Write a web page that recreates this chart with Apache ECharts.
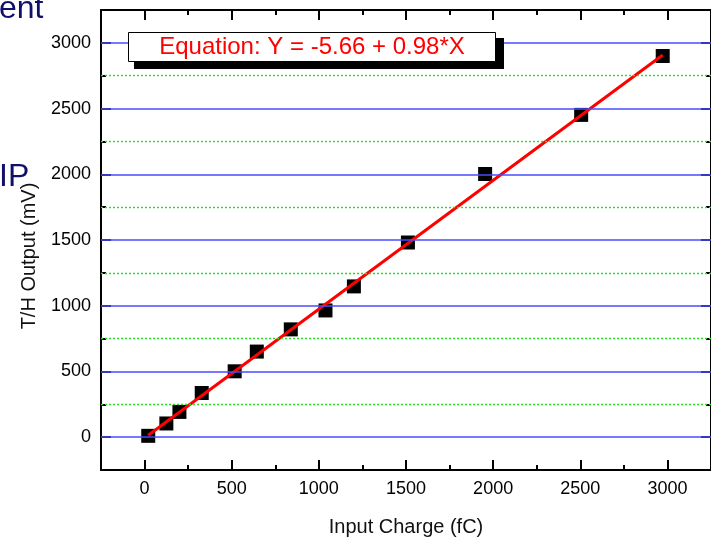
<!DOCTYPE html>
<html>
<head>
<meta charset="utf-8">
<script src="https://cdn.jsdelivr.net/npm/echarts@6/dist/echarts.min.js"></script>
<style>
  html, body { margin: 0; padding: 0; background: #fff; }
  #chart { width: 711px; height: 538px; }
</style>
</head>
<body>
<div id="chart"></div>
<script>
"use strict";

// measured points: input charge (fC) → T/H output (mV)
const chargeFC = [21, 125, 200, 328, 517, 644, 839, 1038, 1201, 1511, 1954, 2505, 2973];
const outputMV = [10, 104, 192, 336, 501, 651, 820, 964, 1147, 1481, 2002, 2452, 2900];

// linear fit shown in the box
const fitIntercept = -5.66;
const fitSlope = 0.98;
const eqText = "Equation: Y = -5.66 + 0.98*X";

const xTicks = [0, 500, 1000, 1500, 2000, 2500, 3000];
const yTicks = [0, 500, 1000, 1500, 2000, 2500, 3000];
const yMinorTicks = [250, 750, 1250, 1750, 2250, 2750];
const xRange = [-250, 3250];
const yRange = [-250, 3250];

const xTitle = "Input Charge (fC)";
const yTitle = "T/H Output (mV)";

const FONT = "'Liberation Sans', Arial, sans-serif";
const INK = "#000";

const pts = chargeFC.map((x, i) => [x, outputMV[i]]);
const xLo = Math.min(...chargeFC), xHi = Math.max(...chargeFC);
const fitPts = [xLo, xHi].map(x => [x, fitIntercept + fitSlope * x]);

// major axis: long inward ticks at custom values, optional labels
function majorAxis(pos, range, ticks, labels) {
  return {
    type: "value", position: pos, min: range[0], max: range[1], interval: 250,
    axisLine: { show: true, onZero: false, lineStyle: { color: INK, width: 2 } },
    axisTick: { show: true, inside: true, length: 10, customValues: ticks,
      lineStyle: { color: INK, width: 2 } },
    axisLabel: labels
      ? { show: true, customValues: ticks, color: "#000", fontSize: 18, fontFamily: FONT,
          margin: 10, formatter: v => String(v) }
      : { show: false },
    splitLine: { show: false },
  };
}

// minor axis: every 250, short ticks only
function minorAxis(pos, range) {
  return {
    type: "value", position: pos, min: range[0], max: range[1], interval: 250,
    axisLine: { show: false, onZero: false },
    axisTick: { show: true, inside: true, length: 5, lineStyle: { color: INK, width: 2 } },
    axisLabel: { show: false },
    splitLine: { show: false },
  };
}

// horizontal grid: blue solid at majors, green dotted at minors
const gridLines = [
  ...yMinorTicks.map(v => ({ yAxis: v, lineStyle: { color: "#22e022", width: 1.4, type: [2, 2], opacity: 1 } })),
  ...yTicks.map(v => ({ yAxis: v, lineStyle: { color: "#4a4aff", width: 1.5, type: "solid", opacity: 1 } })),
];

const chart = echarts.init(document.getElementById("chart"));
chart.setOption({
  animation: false,
  backgroundColor: "#fff",
  grid: { left: 101, right: 0, top: 10, bottom: 68, containLabel: false },
  xAxis: [
    majorAxis("bottom", xRange, xTicks, true),
    minorAxis("bottom", xRange),
    majorAxis("top", xRange, xTicks, false),
    minorAxis("top", xRange),
  ],
  yAxis: [
    majorAxis("left", yRange, yTicks, true),
    minorAxis("left", yRange),
    majorAxis("right", yRange, yTicks, false),
    minorAxis("right", yRange),
  ],
  series: [
    {
      name: "grid", type: "line", xAxisIndex: 0, yAxisIndex: 0, data: [], z: 1,
      markLine: { silent: true, symbol: "none", label: { show: false }, animation: false,
        data: gridLines },
    },
    {
      name: "data", type: "scatter", xAxisIndex: 0, yAxisIndex: 0,
      symbol: "rect", symbolSize: 14, z: 3,
      itemStyle: { color: "#000", opacity: 1 },
      data: pts,
    },
    {
      name: "fit", type: "line", xAxisIndex: 0, yAxisIndex: 0,
      showSymbol: false, z: 4,
      lineStyle: { color: "#ff0000", width: 3 },
      data: fitPts,
    },
  ],
  graphic: [
    // slide text peeking out behind the chart
    { type: "text", left: -1, top: -7, z: 10,
      style: { text: "ent", fill: "#10106a", font: "32px " + FONT } },
    { type: "text", left: -1, top: 161, z: 10,
      style: { text: "IP", fill: "#10106a", font: "32px " + FONT } },
    // axis titles
    { type: "text", x: 406, y: 527, z: 10,
      style: { text: xTitle, fill: "#111", font: "20px " + FONT, align: "center", verticalAlign: "middle" } },
    { type: "text", x: 29, y: 256, rotation: Math.PI / 2, z: 10,
      style: { text: yTitle, fill: "#111", font: "20px " + FONT, align: "center", verticalAlign: "middle" } },
    // equation box with drop shadow
    { type: "rect", shape: { x: 134, y: 38, width: 370, height: 31 }, z: 20,
      style: { fill: "#000" } },
    { type: "rect", shape: { x: 128.5, y: 32.5, width: 367, height: 29 }, z: 21,
      style: { fill: "#fff", stroke: "#000", lineWidth: 1 } },
    { type: "text", x: 312, y: 47, z: 22,
      style: { text: eqText, fill: "#ff0000", font: "24px " + FONT, align: "center", verticalAlign: "middle" } },
  ],
});
</script>
</body>
</html>
